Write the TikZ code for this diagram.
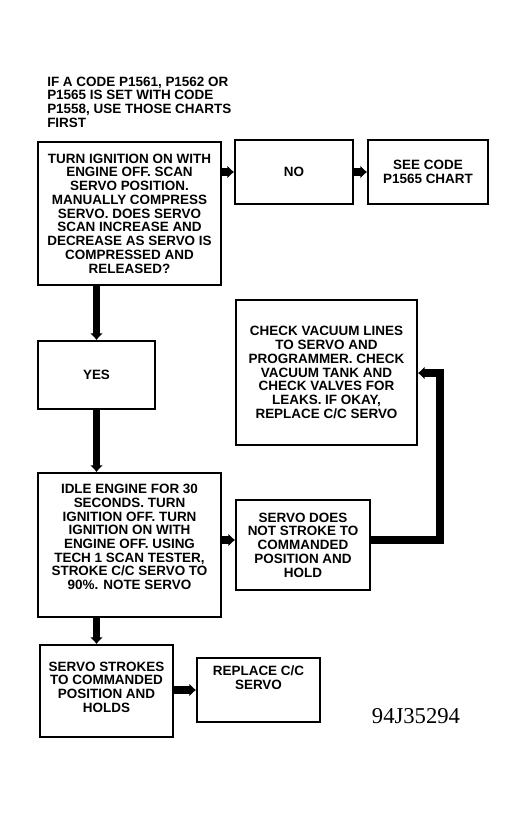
\documentclass[tikz,border=0pt]{standalone}
\usepackage{fontspec}
\setmainfont{Liberation Sans}
\newfontfamily\serifnum{Liberation Serif}
\usetikzlibrary{arrows.meta}
\newcommand\boxfont{\fontsize{10.1}{10.3}\selectfont\bfseries}
\begin{document}
\begin{tikzpicture}[x=0.75pt,y=-0.75pt,
  box/.style={draw, line width=1.4pt, inner sep=0pt, align=center, font=\boxfont},
  txt/.style={inner sep=0pt, align=center, font=\boxfont},
  conn/.style={line width=5.5pt, -{Latex[length=5pt,width=10pt]}}]
\useasboundingbox (0,0) rectangle (525,814);
\node[txt, align=left, anchor=west] (intro) at (47,102) {IF A CODE P1561, P1562 OR\\P1565 IS SET WITH CODE\\P1558, USE THOSE CHARTS\\FIRST};
\node[box, minimum width=137.25pt, minimum height=107.25pt] (q1) at (129.5,213.5)
 {TURN IGNITION ON WITH\\ENGINE OFF. SCAN\\SERVO POSITION.\\MANUALLY COMPRESS\\SERVO. DOES SERVO\\SCAN INCREASE AND\\DECREASE AS SERVO IS\\COMPRESSED AND\\RELEASED?};
\node[box, minimum width=88.5pt, minimum height=48pt] (no) at (294,172) {NO};
\node[box, minimum width=90pt, minimum height=48pt] (see) at (428,172) {SEE CODE\\P1565 CHART};
\node[box, minimum width=87.75pt, minimum height=51pt] (yes) at (96.5,375) {YES};
\node[box, minimum width=135.75pt, minimum height=108.75pt] (check) at (326.5,372.5)
 {CHECK VACUUM LINES\\TO SERVO AND\\PROGRAMMER. CHECK\\VACUUM TANK AND\\CHECK VALVES FOR\\LEAKS. IF OKAY,\\REPLACE C/C SERVO};
\node[box, minimum width=137.25pt, minimum height=108pt] (idle) at (129.5,545) {};
\node[txt] (idletext) at (129.5,537)
 {IDLE ENGINE FOR 30\\SECONDS. TURN\\IGNITION OFF. TURN\\IGNITION ON WITH\\ENGINE OFF. USING\\TECH 1 SCAN TESTER,\\STROKE C/C SERVO TO\\90\%. NOTE SERVO};
\node[box, minimum width=100.5pt, minimum height=67.5pt] (nots) at (303,545)
 {SERVO DOES\\NOT STROKE TO\\COMMANDED\\POSITION AND\\HOLD};
\node[box, minimum width=99.75pt, minimum height=69pt] (strokes) at (106.5,691) {};
\node[txt] (strokestext) at (106.5,687) {SERVO STROKES\\TO COMMANDED\\POSITION AND\\HOLDS};
\node[box, minimum width=92.25pt, minimum height=48pt] (repl) at (258.5,690) {};
\node[txt] (repltext) at (258.5,678) {REPLACE C/C\\SERVO};
\node[inner sep=0pt, font=\fontsize{17}{17}\selectfont\serifnum] (fig) at (416,716) {94J35294};
\coordinate (j1) at (440,540);
\coordinate (j2) at (440,373);
\draw[conn] (q1.east |- no) -- (no.west);
\draw[conn] (no.east) -- (see.west);
\draw[conn] (q1.south -| yes) -- (yes.north);
\draw[conn] (yes.south) -- (idle.north -| yes);
\draw[conn] (idle.east |- j1) -- (nots.west |- j1);
\draw[conn] (nots.east |- j1) -- (j1) -- (j2) -- (check.east |- j2);
\draw[conn] (idle.south -| yes) -- (strokes.north -| yes);
\draw[conn] (strokes.east |- repl) -- (repl.west);
\end{tikzpicture}
\end{document}
